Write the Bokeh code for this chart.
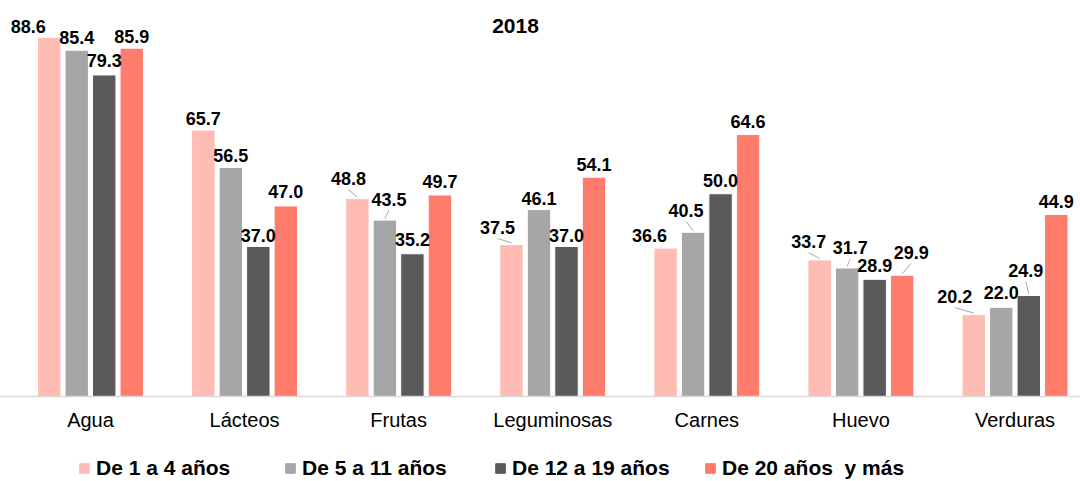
from bokeh.plotting import figure
from bokeh.layouts import column
from bokeh.models import (ColumnDataSource, LabelSet, Range1d, FixedTicker,
                          Legend, LegendItem, Label)
from bokeh.core.properties import value
from bokeh.embed import file_html
from bokeh.resources import INLINE

# ---------------- data ----------------
categories = ["Agua", "Lácteos", "Frutas", "Leguminosas", "Carnes", "Huevo", "Verduras"]
series_names = ["De 1 a 4 años", "De 5 a 11 años", "De 12 a 19 años", "De 20 años  y más"]
de_1_a_4 = [88.6, 65.7, 48.8, 37.5, 36.6, 33.7, 20.2]
de_5_a_11 = [85.4, 56.5, 43.5, 46.1, 40.5, 31.7, 22.0]
de_12_a_19 = [79.3, 37.0, 35.2, 37.0, 50.0, 28.9, 24.9]
de_20_y_mas = [85.9, 47.0, 49.7, 54.1, 64.6, 29.9, 44.9]
series_values = [de_1_a_4, de_5_a_11, de_12_a_19, de_20_y_mas]

# ---------------- style ----------------
colors = ["#FFBCB4", "#A6A6A6", "#595959", "#FF7B6B"]
FONT = "Liberation Sans"

# label offsets in screen px (dx right, dy up from bar top), per category x series
label_dx = [[-21, 0, 0, 0], [0, 0, 0, 0], [-9, 4, 0, 0], [-14, 0, 0, 0],
            [-16, -7, 0, 0], [-11, 3, 0, 9], [-19, 0, -3, 0]]
label_dy = [[11, 13, 14, 12], [12, 12, 11, 14], [20, 21, 14, 13], [17, 11, 11, 13],
            [13, 22, 13, 13], [18, 20, 14, 23], [18, 15, 25, 13]]
leader = [[0, 0, 0, 0], [0, 0, 0, 0], [1, 1, 0, 0], [1, 0, 0, 0],
          [0, 1, 0, 0], [1, 1, 0, 1], [1, 0, 1, 0]]
legend_box_x = [72, 278, 488, 698]   # screen px of each legend entry

W = 1080
FH = 396            # frame height (chart area)
H = 446             # chart figure height (frame + axis)
LH = 35             # legend strip height
XSTART, XEND = -0.584, 6.425
YMAX = 97.66
XPX = W / (XEND - XSTART)
YPX = FH / YMAX
PITCH = 0.1785
BARW = 0.152

p = figure(width=W, height=H, x_range=Range1d(XSTART, XEND), y_range=Range1d(0, YMAX),
           output_backend="svg", toolbar_location=None, y_axis_location=None,
           min_border_left=0, min_border_right=0, min_border_top=0,
           min_border_bottom=H - FH)
p.outline_line_color = None
p.xgrid.visible = False
p.ygrid.visible = False

ax = p.xaxis[0]
ax.ticker = FixedTicker(ticks=list(range(len(categories))))
ax.major_label_overrides = {i: c for i, c in enumerate(categories)}
ax.major_tick_line_color = None
ax.minor_tick_line_color = None
ax.axis_line_color = "#D9D9D9"
ax.axis_line_width = 1.5
ax.major_label_text_font = FONT
ax.major_label_text_font_size = "20px"
ax.major_label_text_color = "#000000"
ax.major_label_standoff = 6

for s, (vals, col) in enumerate(zip(series_values, colors)):
    xs = [i + (s - 1.5) * PITCH for i in range(len(categories))]
    dx = [label_dx[i][s] for i in range(len(categories))]
    dy = [label_dy[i][s] for i in range(len(categories))]
    src = ColumnDataSource(dict(x=xs, top=vals, txt=["%.1f" % v for v in vals], dx=dx, dy=dy))
    p.vbar(x="x", top="top", width=BARW, fill_color=col, line_color="white",
           line_width=1, source=src)
    lx0, ly0, lx1, ly1 = [], [], [], []
    for i in range(len(categories)):
        if leader[i][s]:
            lx0.append(xs[i] + dx[i] / XPX)
            ly0.append(vals[i] + (dy[i] - 11) / YPX)
            lx1.append(xs[i])
            ly1.append(vals[i] + 1.5 / YPX)
    if lx0:
        p.segment(x0=lx0, y0=ly0, x1=lx1, y1=ly1, line_color="#A6A6A6", line_width=1)
    p.add_layout(LabelSet(x="x", y="top", text="txt", x_offset="dx", y_offset="dy",
                          source=src, text_align="center", text_baseline="middle",
                          text_font=value(FONT), text_font_size=value("18px"),
                          text_font_style="bold", text_color="#000000"))

p.add_layout(Label(x=515, y=FH - 25, x_units="screen", y_units="screen", text="2018",
                   text_align="center", text_baseline="middle", text_font=FONT,
                   text_font_size="21px", text_font_style="bold", text_color="#000000"))

# ---------------- legend strip ----------------
lf = figure(width=W, height=LH, x_range=Range1d(0, 1), y_range=Range1d(0, 1),
            output_backend="svg", toolbar_location=None,
            x_axis_location=None, y_axis_location=None,
            min_border_left=0, min_border_right=0, min_border_top=0, min_border_bottom=0)
lf.outline_line_color = None
lf.xgrid.visible = False
lf.ygrid.visible = False
for name, col, bx in zip(series_names, colors, legend_box_x):
    # legend proxy: a marker kept outside the visible range, only its swatch shows
    r = lf.scatter(x=[0.5], y=[-5], marker="square", fill_color=col, line_color=col)
    lg = Legend(items=[LegendItem(label=name, renderers=[r])],
                location=(bx, 1), orientation="horizontal", glyph_width=24, glyph_height=24,
                label_standoff=0, padding=0, margin=0, border_line_color=None,
                background_fill_alpha=0, label_text_font=FONT,
                label_text_font_size="21px", label_text_font_style="bold",
                label_text_color="#000000")
    lf.add_layout(lg, "center")

layout = column(p, lf, spacing=0)
open("out.html", "w").write(file_html(layout, INLINE))
